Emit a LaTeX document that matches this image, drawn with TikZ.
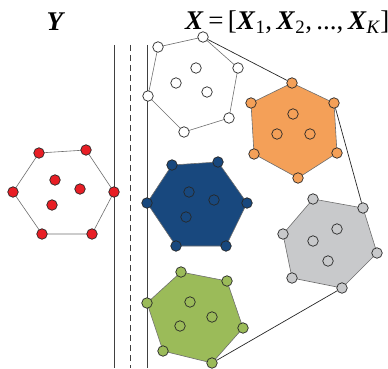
\documentclass[tikz,border=0pt]{standalone}
\usepackage{fontspec}
\setmainfont{Liberation Serif}
\definecolor{redc}{RGB}{232,30,37}
\definecolor{orangec}{RGB}{244,160,88}
\definecolor{bluec}{RGB}{24,72,126}
\definecolor{grayc}{RGB}{200,201,203}
\definecolor{greenc}{RGB}{155,187,89}
\definecolor{edgec}{RGB}{110,110,110}
\newcommand{\bx}[1]{\textbf{\textit{#1}}}
\tikzset{
  dot/.style={circle,draw=black!85,line width=0.7pt,inner sep=0pt,minimum size=10.5pt},
  polyedge/.style={draw=edgec,line width=0.6pt},
  hull/.style={draw=black!85,line width=0.7pt},
  vline/.style={draw=black!75,line width=0.8pt},
  title/.style={font=\fontsize{27}{29}\selectfont,inner sep=0pt}
}
\begin{document}
\begin{tikzpicture}[x=1pt,y=-1pt]
\useasboundingbox (0,0) rectangle (388,369);
% vertical lines
\coordinate (l1t) at (114,45); \coordinate (l1b) at (114,368);
\coordinate (l2t) at (130,45); \coordinate (l2b) at (130,368);
\coordinate (l3t) at (147,45); \coordinate (l3b) at (147,368);
\draw[vline] (l1t) -- (l1b);
\draw[vline,dash pattern=on 6pt off 4pt] (l2t) -- (l2b);
\draw[vline] (l3t) -- (l3b);
% titles
\node[title] (ty) at (56,22) {\bx{Y}};
\node[title,anchor=west] (tx) at (185,22) {\bx{X}\,=\,[\bx{X}\textsubscript{1},\,\bx{X}\textsubscript{2},\,...,\,\bx{X}\textsubscript{\textit{K}}]};
% red
\foreach \n/\p in {1/{39,153},2/{86,150},3/{114,192},4/{92,234},5/{42,234},6/{13,192}} \coordinate (r\n) at (\p);
\draw[polyedge] (r1)--(r2)--(r3)--(r4)--(r5)--(r6)--cycle;
\foreach \n in {1,...,6} \node[dot,fill=redc] (R\n) at (r\n) {};
\foreach \n/\p in {a/{55,180},b/{80,189},c/{52,205}} \node[dot,fill=redc] (R\n) at (\p) {};
% white
\foreach \n/\p in {1/{158,47},2/{203,37},3/{238,68},4/{229,118},5/{184,132},6/{148,96}} \coordinate (w\n) at (\p);
\draw[polyedge] (w1)--(w2)--(w3)--(w4)--(w5)--(w6)--cycle;
% orange
\foreach \n/\p in {1/{292,83},2/{334,103},3/{337,153},4/{298,178},5/{254,154},6/{251,103}} \coordinate (o\n) at (\p);
\draw[polyedge,fill=orangec] (o1)--(o2)--(o3)--(o4)--(o5)--(o6)--cycle;
% blue
\foreach \n/\p in {1/{172,165},2/{218,162},3/{247,203},4/{226,246},5/{176,246},6/{147,203}} \coordinate (b\n) at (\p);
\draw[polyedge,fill=bluec] (b1)--(b2)--(b3)--(b4)--(b5)--(b6)--cycle;
% gray
\foreach \n/\p in {1/{313,199},2/{363,208},3/{377,253},4/{342,288},5/{292,278},6/{283,234}} \coordinate (g\n) at (\p);
\draw[polyedge,fill=grayc] (g1)--(g2)--(g3)--(g4)--(g5)--(g6)--cycle;
% green
\foreach \n/\p in {1/{181,272},2/{227,281},3/{243,328},4/{212,363},5/{163,351},6/{147,303}} \coordinate (e\n) at (\p);
\draw[polyedge,fill=greenc] (e1)--(e2)--(e3)--(e4)--(e5)--(e6)--cycle;
% dots
\foreach \n in {1,...,6} {
  \node[dot,fill=white] (W\n) at (w\n) {};
  \node[dot,fill=orangec] (O\n) at (o\n) {};
  \node[dot,fill=bluec] (B\n) at (b\n) {};
  \node[dot,fill=grayc] (G\n) at (g\n) {};
  \node[dot,fill=greenc] (E\n) at (e\n) {};
}
\foreach \n/\p in {a/{196,68},b/{176,83},c/{207,92}} \node[dot,fill=white] (W\n) at (\p) {};
\foreach \n/\p in {a/{293,114},b/{277,134},c/{310,134}} \node[dot,fill=orangec] (O\n) at (\p) {};
\foreach \n/\p in {a/{189,192},b/{214,200},c/{186,217}} \node[dot,fill=bluec] (B\n) at (\p) {};
\foreach \n/\p in {a/{337,229},b/{313,241},c/{328,261}} \node[dot,fill=grayc] (G\n) at (\p) {};
\foreach \n/\p in {a/{190,302},b/{212,317},c/{180,326}} \node[dot,fill=greenc] (E\n) at (\p) {};
% hull connectors
\draw[hull] (W2) -- (O1);
\draw[hull] (O2) -- (G2);
\draw[hull] (G4) -- (E4);
\end{tikzpicture}
\end{document}
